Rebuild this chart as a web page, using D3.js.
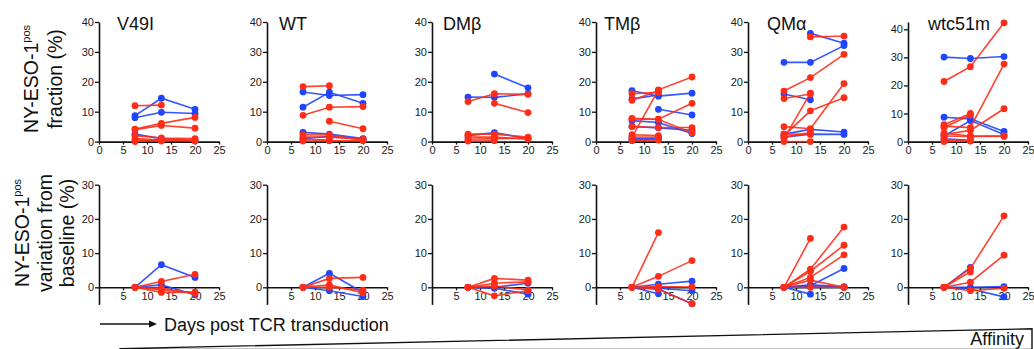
<!DOCTYPE html>
<html>
<head>
<meta charset="utf-8">
<script src="https://cdn.jsdelivr.net/npm/d3@7"></script>
<style>
  body { margin: 0; background: #fff; }
  svg { display: block; font-family: Arial, "Liberation Sans", sans-serif; }
</style>
</head>
<body>
<svg id="chart" width="1034" height="349"></svg>
<script>
// days post transduction at which each sample was measured
const days = [7.5, 13, 20]
const panels = ["V49I", "WT", "DMβ", "TMβ", "QMα", "wtc51m"]
const xTicks = [0, 5, 10, 15, 20, 25]
const fracTicks = [0, 10, 20, 30, 40]
const varTicks = [0, 10, 20, 30]

// NY-ESO-1pos fraction (%), one array per donor line
const fracBlue = {
  "V49I": [[8.7, 14.5, 10.8], [8.0, 9.8, 9.4], [2.5, 1.0, 0.3]],
  "WT": [[16.6, 15.4, 15.7], [11.5, 16.5, 12.8], [3.1, 2.5, 1.0], [1.0, 1.8, 0.8]],
  "DMβ": [[14.9, 14.8, 16.0], [null, 22.6, 18.0], [2.0, 3.0, 1.0]],
  "TMβ": [[17.0, 15.2, 16.2], [14.3, 15.6, null], [null, 10.8, 8.9], [7.0, 6.4, 2.7], [5.1, 4.6, 3.8], [1.0, 1.0, null], [0.5, 0.8, null]],
  "QMα": [[null, 36.2, 32.9], [26.5, 26.5, 32.1], [15.9, 14.0, null], [2.5, 4.1, 3.2], [1.5, 2.5, 2.4]],
  "wtc51m": [[30.1, 29.6, 30.3], [8.7, 8.1, 3.6], [2.0, 7.5, 2.5], [1.0, 0.5, null]]
}
const fracRed = {
  "V49I": [[12.0, 12.2, null], [4.2, 6.1, 8.1], [4.0, 5.4, 4.5], [2.0, 1.2, 1.0], [1.0, 0.5, 0.5], [0.5, 0.2, null], [0.0, 0.8, 0.2]],
  "WT": [[18.4, 18.7, null], [8.8, 11.5, 11.7], [null, 6.8, 4.3], [2.3, 2.2, 0.5], [1.5, 1.5, 0.8], [0.8, 0.5, null], [0.2, 0.3, 0.3]],
  "DMβ": [[13.4, 16.0, 15.8], [null, 12.8, 9.7], [2.5, 2.5, 1.5], [1.5, 1.5, 0.8], [0.8, 1.0, 1.2], [0.2, 0.3, null]],
  "TMβ": [[16.0, 16.5, null], [13.8, 17.0, null], [1.5, 17.3, 21.6], [7.6, 7.5, 12.8], [7.8, 7.4, 3.0], [5.0, 4.7, 4.7], [2.3, 2.0, null], [1.5, 1.5, null], [0.3, 0.5, null]],
  "QMα": [[null, 35.0, 35.3], [16.9, 21.4, 29.2], [14.4, 15.9, null], [1.0, 16.2, null], [2.0, 10.3, 14.7], [5.0, 4.3, 19.4], [2.5, 2.5, null], [1.5, 3.0, null], [0.0, 0.0, null]],
  "wtc51m": [[21.4, 26.7, 42.3], [5.5, 5.0, 27.6], [6.0, 10.0, null], [5.0, 9.5, null], [2.5, 4.0, 11.7], [3.0, 2.0, 2.0], [2.0, 1.8, 1.9], [0.5, 0.3, null], [0.0, 0.2, null]]
}

// variation from baseline (%)
const varBlue = {
  "V49I": [[0, 6.6, 2.9], [0, 0.7, -2.2]],
  "WT": [[0, 4.1, -1.5], [0, -1.0, -2.7]],
  "DMβ": [[0, 0, 1.2], [0, -0.3, -2.0]],
  "TMβ": [[0, 0.9, 1.8], [0, -1.9, null], [0, -0.3, -1.0], [0, -0.5, -4.8]],
  "QMα": [[0, 0.5, 5.5], [0, -2.0, null], [0, 0.7, 0.2], [0, 0.3, 0]],
  "wtc51m": [[0, 5.8, null], [0, -0.5, -2.8], [0, 0, 0.2]]
}
const varRed = {
  "V49I": [[0, 1.7, 3.8], [0, -0.8, -1.6], [0, -1.5, -1.4], [0, -0.3, -1.8]],
  "WT": [[0, 2.6, 2.9], [0, 0.7, -1.6], [0, 0, -0.8]],
  "DMβ": [[0, 2.6, 2.1], [0, -2.5, -1.0], [0, 1.2, 1.6], [0, 0.4, -0.8]],
  "TMβ": [[0, 16.0, null], [0, 3.2, 7.8], [0, 0.2, 0.1], [0, -0.6, -4.8]],
  "QMα": [[0, 14.3, null], [0, 5.3, 17.6], [0, 4.7, 12.3], [0, 2.9, 9.5], [0, 2.1, 0], [0, 0, 0]],
  "wtc51m": [[0, 5.5, 20.9], [0, 1.5, 9.4], [0, 4.5, null], [0, -1.0, -0.3]]
}

const BLUE = "#1f45ff"
const RED = "#ff2d17"
const svg = d3.select("#chart")

// left edge of each panel's y axis, and where the titles start
const panelLeft = [99, 267, 432, 596, 748, 908]
const titleLeft = [117, 279, 443, 604, 767, 928]
const panelW = 120

const line = (x, y) => d3.line()
  .defined((d) => d != null)
  .x((d, i) => x(days[i]))
  .y((d) => y(d))

function drawSeries(g, x, y, series, colour) {
  const l = line(x, y)
  series.forEach((s) => {
    // d3.line with defined() needs index info, so keep nulls in place
    g.append("path")
      .attr("d", l(s))
      .attr("fill", "none")
      .attr("stroke", colour)
      .attr("stroke-width", 1.6)
      .attr("stroke-opacity", 0.9)
    s.forEach((v, i) => {
      if (v == null) return
      g.append("circle")
        .attr("cx", x(days[i]))
        .attr("cy", y(v))
        .attr("r", 3.4)
        .attr("fill", colour)
    })
  })
}

function styleAxis(g) {
  g.selectAll(".domain").attr("stroke", "#111").attr("stroke-width", 1.6)
  g.selectAll(".tick line").attr("stroke", "#111").attr("stroke-width", 1.3)
  g.selectAll(".tick text").attr("fill", "#222").style("font-size", "11px")
    .style("font-family", "Arial, 'Liberation Sans', sans-serif")
}

panels.forEach((name, p) => {
  const left = panelLeft[p]
  const x = d3.scaleLinear().domain([0, 25]).range([left, left + panelW])

  // top row: fraction
  const yTop = d3.scaleLinear()
    .domain([0, name === "wtc51m" ? 42.6 : 40])
    .range([141.6, 22])
  const gt = svg.append("g")
  gt.append("g")
    .attr("transform", `translate(0,${yTop(0)})`)
    .call(d3.axisBottom(x).tickValues(xTicks).tickSize(3).tickPadding(2).tickSizeOuter(0))
    .call(styleAxis)
  gt.append("g")
    .attr("transform", `translate(${left},0)`)
    .call(d3.axisLeft(yTop).tickValues(fracTicks).tickSize(4).tickPadding(1).tickSizeOuter(0))
    .call(styleAxis)
  drawSeries(gt, x, yTop, fracBlue[name], BLUE)
  drawSeries(gt, x, yTop, fracRed[name], RED)
  gt.append("text")
    .attr("x", titleLeft[p])
    .attr("y", 30)
    .style("font-size", "18px")
    .attr("fill", "#111")
    .text(name)

  // bottom row: variation from baseline
  const yBot = d3.scaleLinear().domain([-5, 30]).range([304.4, 184.7])
  const gb = svg.append("g")
  gb.append("g")
    .attr("transform", `translate(${left},0)`)
    .call(d3.axisLeft(yBot).tickValues(varTicks).tickSize(4).tickPadding(1).tickSizeOuter(0))
    .call(styleAxis)
  gb.append("g")
    .attr("transform", `translate(0,${yBot(0)})`)
    .call(d3.axisBottom(x).tickValues(xTicks.slice(1)).tickSize(3).tickPadding(2).tickSizeOuter(0))
    .call(styleAxis)
  drawSeries(gb, x, yBot, varBlue[name], BLUE)
  drawSeries(gb, x, yBot, varRed[name], RED)
})

// rotated y labels
function yLabel(cx, cy, lines) {
  const g = svg.append("g").attr("transform", `translate(0,${cy})`)
  lines.forEach((ln, i) => {
    const t = g.append("text")
      .attr("transform", `translate(${ln.x},0) rotate(-90)`)
      .attr("text-anchor", "middle")
      .attr("dy", "0.35em")
      .style("font-size", "19.5px")
      .attr("fill", "#111")
    if (ln.sup) {
      t.append("tspan").text(ln.text)
      t.append("tspan").text(ln.sup).style("font-size", "11px").attr("dy", "-0.75em")
    } else {
      t.text(ln.text)
    }
  })
}
yLabel(0, 79, [
  { x: 31, text: "NY-ESO-1", sup: "pos" },
  { x: 55, text: "fraction (%)" }
])
yLabel(0, 233, [
  { x: 22, text: "NY-ESO-1", sup: "pos" },
  { x: 45, text: "variation from" },
  { x: 67, text: "baseline (%)" }
])

// time arrow
svg.append("line")
  .attr("x1", 100).attr("x2", 150)
  .attr("y1", 324).attr("y2", 324)
  .attr("stroke", "#111").attr("stroke-width", 1.3)
svg.append("path")
  .attr("d", "M149,320.5 L157,324 L149,327.5 Z")
  .attr("fill", "#111")
svg.append("text")
  .attr("x", 164).attr("y", 330.5)
  .style("font-size", "18px")
  .attr("fill", "#111")
  .text("Days post TCR transduction")

// affinity wedge
svg.append("path")
  .attr("d", "M120,348.6 L1032,328.8 L1032,349.5 L120,349.5 Z")
  .attr("fill", "#fff")
  .attr("stroke", "#111")
  .attr("stroke-width", 1.4)
svg.append("text")
  .attr("x", 1024).attr("y", 345)
  .attr("text-anchor", "end")
  .style("font-size", "18px")
  .attr("fill", "#111")
  .text("Affinity")
</script>
</body>
</html>
